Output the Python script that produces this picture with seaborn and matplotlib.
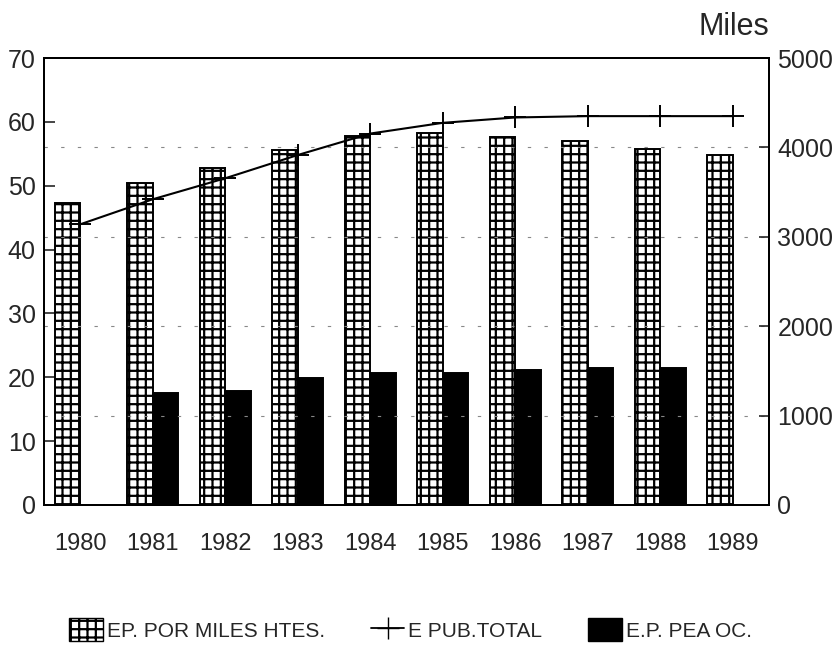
import matplotlib
matplotlib.use("Agg")
import matplotlib.pyplot as plt
import seaborn as sns
import numpy as np
import pandas as pd
from matplotlib.patches import Patch
from matplotlib.lines import Line2D

# data
years = ["1980", "1981", "1982", "1983", "1984", "1985", "1986", "1987", "1988", "1989"]
ep_miles_htes = [47.3, 50.5, 52.7, 55.6, 57.8, 58.2, 57.7, 57.0, 55.7, 54.8]
ep_pea_oc = [np.nan, 17.5, 17.9, 19.9, 20.6, 20.7, 21.2, 21.4, 21.4, np.nan]
e_pub_total = [3140, 3420, 3655, 3915, 4155, 4275, 4335, 4350, 4350, 4350]

lab_hatch = "EP. POR MILES HTES."
lab_line = "E PUB.TOTAL"
lab_black = "E.P. PEA OC."

sns.set_style("white")
plt.rcParams['font.family'] = ['Liberation Sans Narrow', 'Liberation Sans', 'DejaVu Sans']
plt.rcParams['hatch.linewidth'] = 1.6

df = pd.DataFrame({
    "year": years * 2,
    "value": ep_miles_htes + ep_pea_oc,
    "serie": [lab_hatch] * 10 + [lab_black] * 10,
})

fig = plt.figure(figsize=(8.38, 6.52), dpi=100)
ax = fig.add_axes([0.0525, 0.2255, 0.8652, 0.6855])

sns.barplot(data=df, x="year", y="value", hue="serie", order=years,
            hue_order=[lab_hatch, lab_black],
            palette={lab_hatch: "white", lab_black: "black"},
            width=0.7, edgecolor="black", linewidth=1.4, legend=False, ax=ax)
for p in ax.containers[0]:
    p.set_hatch("++")

ax.set_ylim(0, 70)
ax.set_xlim(-0.5, 9.5)
ax.set_yticks(range(0, 71, 10))
ax.set_xlabel("")
ax.set_ylabel("")

ax2 = ax.twinx()
sns.lineplot(x=np.arange(10), y=e_pub_total, ax=ax2, color="black", lw=1.5,
             marker="+", markersize=16, markeredgewidth=1.4,
             markeredgecolor="black")
ax2.set_ylim(0, 5000)
ax2.set_yticks(range(0, 5001, 1000))

for v in [1000, 2000, 3000, 4000]:
    ax2.axhline(v, color="#888888", lw=0.8, ls=(0, (3, 12)), zorder=0)

for a in (ax, ax2):
    for s in a.spines.values():
        s.set_visible(True)
        s.set_color("black")
        s.set_linewidth(1.4)
ax.tick_params(axis="y", direction="in", length=8, width=1.2, labelsize=18, pad=6)
ax.tick_params(axis="x", length=0, labelsize=17, pad=20)
ax2.tick_params(axis="y", direction="in", length=7, width=1.2, labelsize=18, pad=6)

fig.text(0.918, 0.935, "Miles", fontsize=22, ha="right", va="bottom")

handles = [
    Patch(facecolor="white", edgecolor="black", hatch="++", label=lab_hatch),
    Line2D([0], [0], color="black", lw=1.3, marker="+", markersize=16, label=lab_line),
    Patch(facecolor="black", edgecolor="black", label=lab_black),
]
fig.legend(handles=handles, loc="lower center", bbox_to_anchor=(0.49, -0.012), ncol=3,
           frameon=False, fontsize=15, handlelength=1.6, handleheight=1.3,
           handletextpad=0.2, columnspacing=2.2)

fig.savefig("out.png", dpi=100)
